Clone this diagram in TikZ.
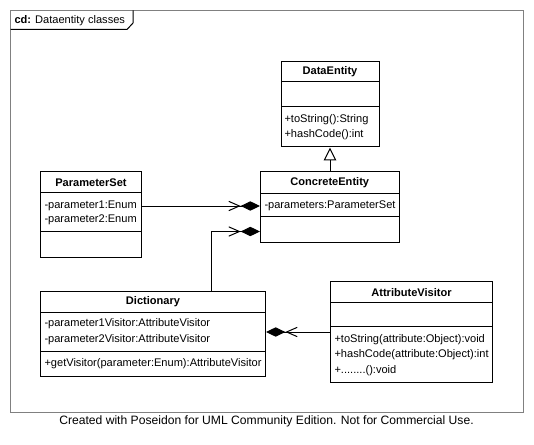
\documentclass[tikz,border=0pt]{standalone}
\usepackage{fontspec}
\setmainfont{Liberation Sans}
\usetikzlibrary{arrows.meta,fit,calc}
\begin{document}
\begin{tikzpicture}[x=0.75pt,y=-0.75pt,
  line width=0.75pt,
  every node/.style={font=\fontsize{8.3}{10}\selectfont},
  cbox/.style={draw=black,inner sep=0pt,fill=white},
  sepline/.style={draw=black},
  cname/.style={font=\fontsize{8.3}{10}\selectfont\bfseries,inner sep=0pt},
  ctext/.style={anchor=west,inner sep=0pt},
  gen/.style={-{Triangle[open,length=9.75pt,width=9.5pt,fill=white]}},
  comp/.style={-{Straight Barb[length=8pt,width=7pt,line width=0.75pt] Diamond[length=14.5pt,width=7pt,sep=0pt]}}
]
\useasboundingbox (0,0) rectangle (534,445);
\fill[white] (0,0) rectangle (534,445);
% frame
\draw[draw=black!50] (10.5,10.5) rectangle (523,412.5);
\draw (10.5,29.5) -- (127,29.5) -- (133,23) -- (133,10.5);
\node[ctext] (title) at (14,20.5) {\textbf{cd:} Dataentity classes};
% footer
\node[inner sep=0pt,font=\fontsize{9.1}{11}\selectfont] (footer) at (266.5,421.5) {Created with Poseidon for UML Community Edition. Not for Commercial Use.};

% DataEntity
\coordinate (de1) at (281,62); \coordinate (de2) at (379,147);
\node[cbox,fit=(de1)(de2)] (de) {};
\draw[sepline] (281,82) -- (379,82);
\draw[sepline] (281,107) -- (379,107);
\node[cname] (den) at (330,72) {DataEntity};
\node[ctext] (dem1) at (284,120) {+toString():String};
\node[ctext] (dem2) at (284,135) {+hashCode():int};

% ConcreteEntity
\coordinate (ce1) at (260.5,172); \coordinate (ce2) at (399,242.5);
\node[cbox,fit=(ce1)(ce2)] (ce) {};
\draw[sepline] (260.5,193) -- (399,193);
\draw[sepline] (260.5,216.5) -- (399,216.5);
\node[cname] (cen) at (329.75,182.5) {ConcreteEntity};
\node[ctext] (cea1) at (264,205.5) {-parameters:ParameterSet};

% ParameterSet
\coordinate (ps1) at (40.5,172); \coordinate (ps2) at (141.5,257);
\node[cbox,fit=(ps1)(ps2)] (ps) {};
\draw[sepline] (40.5,192.5) -- (141.5,192.5);
\draw[sepline] (40.5,231) -- (141.5,231);
\node[cname] (psn) at (91,182.5) {ParameterSet};
\node[ctext] (psa1) at (44,206) {-parameter1:Enum};
\node[ctext] (psa2) at (44,220) {-parameter2:Enum};

% Dictionary
\coordinate (di1) at (40.5,291.5); \coordinate (di2) at (265.5,376.5);
\node[cbox,fit=(di1)(di2)] (di) {};
\draw[sepline] (40.5,312) -- (265.5,312);
\draw[sepline] (40.5,351) -- (265.5,351);
\node[cname] (din) at (153,302) {Dictionary};
\node[ctext] (dia1) at (44,323.5) {-parameter1Visitor:AttributeVisitor};
\node[ctext] (dia2) at (44,339.5) {-parameter2Visitor:AttributeVisitor};
\node[ctext] (dim1) at (44,364) {+getVisitor(parameter:Enum):AttributeVisitor};

% AttributeVisitor
\coordinate (av1) at (330.5,281.5); \coordinate (av2) at (492.5,382);
\node[cbox,fit=(av1)(av2)] (av) {};
\draw[sepline] (330.5,302) -- (492.5,302);
\draw[sepline] (330.5,326) -- (492.5,326);
\node[cname] (avn) at (411.5,292.5) {AttributeVisitor};
\node[ctext] (avm1) at (334,340) {+toString(attribute:Object):void};
\node[ctext] (avm2) at (334,355) {+hashCode(attribute:Object):int};
\node[ctext] (avm3) at (334,370.5) {+........():void};

% connectors
\draw[gen] (ce.north -| de.south) -- (de.south);
\coordinate (p1) at (0,206);
\draw[comp] (ps.east |- p1) -- (ce.west |- p1);
\coordinate (p2) at (211.5,231.5);
\draw[comp] (di.north -| p2) |- (ce.west |- p2);
\coordinate (p3) at (0,332);
\draw[comp] (av.west |- p3) -- (di.east |- p3);
\end{tikzpicture}
\end{document}
